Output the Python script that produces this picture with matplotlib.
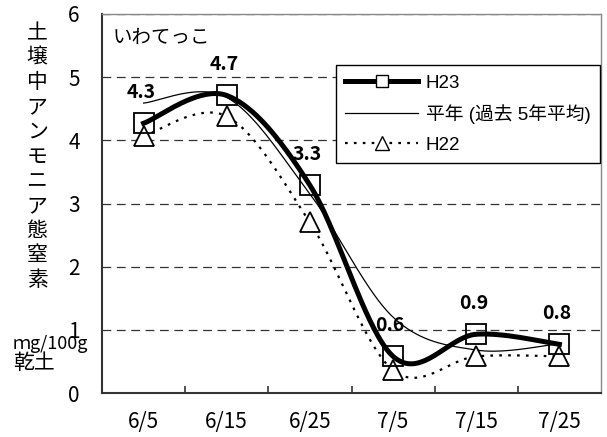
import matplotlib
matplotlib.use("Agg")
import matplotlib.pyplot as plt
from matplotlib.lines import Line2D
import numpy as np

plt.rcParams['font.family'] = ['Noto Sans CJK JP', 'DejaVu Sans']

dates = ["6/5", "6/15", "6/25", "7/5", "7/15", "7/25"]
h23 = [4.27, 4.71, 3.29, 0.58, 0.93, 0.77]
h23_labels = ["4.3", "4.7", "3.3", "0.6", "0.9", "0.8"]
normal = [4.59, 4.68, 3.15, 1.2, 0.68, 0.78]
h22 = [4.07, 4.38, 2.7, 0.36, 0.58, 0.58]

ylab_chars = list("土壌中アンモニア態窒素")


def smooth(xs, ys, n=40):
	# bezier smoothing like the spreadsheet "smoothed line"
	p = np.column_stack([xs, ys]).astype(float)
	out = []
	for i in range(len(p) - 1):
		p0 = p[i - 1] if i > 0 else p[i]
		p1 = p[i]
		p2 = p[i + 1]
		p3 = p[i + 2] if i + 2 < len(p) else p[i + 1]
		c1 = p1 + (p2 - p0) / 6
		c2 = p2 - (p3 - p1) / 6
		t = np.linspace(0, 1, n)[:, None]
		seg = (1 - t) ** 3 * p1 + 3 * (1 - t) ** 2 * t * c1 + 3 * (1 - t) * t ** 2 * c2 + t ** 3 * p2
		out.append(seg if i == 0 else seg[1:])
	out = np.vstack(out)
	return out[:, 0], out[:, 1]


fig = plt.figure(figsize=(6.07, 4.37), dpi=100)
ax = fig.add_axes([102 / 607, 1 - 393 / 437, 499 / 607, 379 / 437])

x = np.arange(len(dates))

sx, sy = smooth(x, normal)
ax.plot(sx, sy, color='black', lw=0.9, zorder=3)

sx, sy = smooth(x, h22)
ax.plot(sx, sy, color='black', lw=1.6, linestyle=(0, (1.2, 2.8)), zorder=3)
ax.plot(x, h22, linestyle='none', marker='^', ms=15, mfc='white', mec='black', mew=1.3, zorder=4)

sx, sy = smooth(x, h23)
ax.plot(sx, sy, color='black', lw=3.6, zorder=5)
ax.plot(x, h23, linestyle='none', marker='s', ms=14, mfc='none', mec='black', mew=1.3, zorder=6)

for i, v in enumerate(h23):
	ax.annotate(h23_labels[i], (x[i], v), xytext=(-2, 22), textcoords='offset points',
				ha='center', va='center', fontsize=14, fontweight='bold', zorder=7)

ax.set_xlim(-0.5, len(dates) - 0.5)
ax.set_ylim(0, 6)
ax.set_xticks(x)
ax.set_xticklabels(dates)
ax.set_xticks(x[:-1] + 0.5, minor=True)
ax.set_yticks(range(7))
ax.tick_params(axis='x', which='major', length=0, pad=13, labelsize=15)
ax.tick_params(axis='x', which='minor', direction='in', length=5, width=1.2, color='#333333')
ax.tick_params(axis='y', length=0, pad=16, labelsize=15)

ax.yaxis.grid(True, color='#333333', lw=0.9, linestyle=(0, (7, 4.5)))
ax.set_axisbelow(True)

for s in ['left', 'bottom']:
	ax.spines[s].set_color('#333333')
	ax.spines[s].set_linewidth(1.5)
for s in ['top', 'right']:
	ax.spines[s].set_color('#888888')
	ax.spines[s].set_linewidth(1.0)

handles = [
	Line2D([], [], color='black', lw=3.6, marker='s', ms=9, mfc='white', mec='black', mew=1.0),
	Line2D([], [], color='black', lw=0.9),
	Line2D([], [], color='black', lw=1.6, linestyle=(0, (1.2, 2.8)), marker='^', ms=10,
		   mfc='white', mec='black', mew=1.0),
]
leg = ax.legend(handles, ["H23", "平年 (過去 5年平均)", "H22"], loc='upper right',
				bbox_to_anchor=(0.998, (393 - 65) / 379), borderaxespad=0,
				handlelength=3.9, handletextpad=0.4, labelspacing=0.68, borderpad=0.5,
				fancybox=False, framealpha=1, edgecolor='black',
				prop={'family': ['Liberation Sans', 'Noto Sans CJK JP'], 'size': 13.5})
leg.get_frame().set_linewidth(1.0)
leg.set_zorder(8)

ax.text(113 / 607, 1 - 37 / 437, "いわてっこ", transform=fig.transFigure, ha='left', va='center',
		fontsize=14)

for k, ch in enumerate(ylab_chars):
	fig.text(37 / 607, 1 - (33 + k * 24.7) / 437, ch, ha='center', va='center', fontsize=15)
fig.text(13 / 607, 1 - 344 / 437, "ｍg/100g", ha='left', va='center', fontsize=13)
fig.text(13 / 607, 1 - 363 / 437, "乾土", ha='left', va='center', fontsize=15)

fig.savefig("out.png", dpi=100)
